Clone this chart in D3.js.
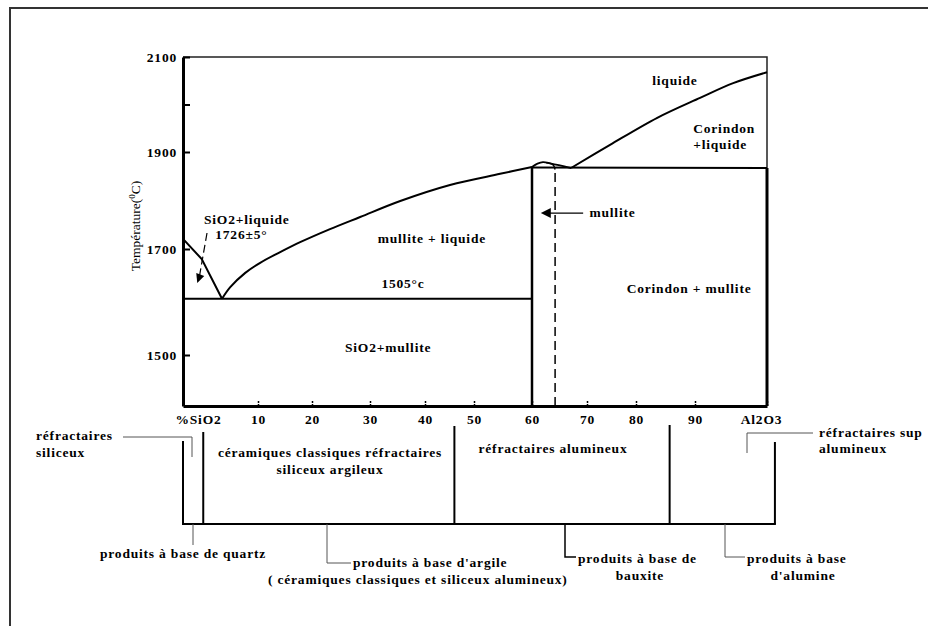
<!DOCTYPE html>
<html>
<head>
<meta charset="utf-8">
<script src="https://cdn.jsdelivr.net/npm/d3@7"></script>
<style>
body { margin: 0; background: #fff; }
text { font-family: "Liberation Serif", "Times New Roman", serif; font-weight: bold; font-size: 13.5px;
  fill: #000; letter-spacing: 0.8px; }
text.title { font-weight: normal; letter-spacing: 0; font-size: 13.5px; }
</style>
</head>
<body>
<div id="diagram"></div>
<script>
"use strict";

// data (composition % Al2O3, temperature °C) ***********************************
var xTicks = [0, 10, 20, 30, 40, 50, 60, 70, 80, 90, 100];
var xTickLabels = ["%SiO2", "10", "20", "30", "40", "50", "60", "70", "80", "90", "Al2O3"];
var yTicks = [1500, 1700, 1900, 2000, 2100];
var yTickLabels = ["1500", "1700", "1900", "", "2100"];

var silicaLiquidus = [[0, 1721], [2.5, 1681], [5.2, 1606]];
var mulliteLiquidus = [[5.2, 1606], [6.3, 1628], [8.3, 1655], [10.4, 1674], [14.1, 1694],
  [17.8, 1714], [23.1, 1741], [28.3, 1766], [35.5, 1799], [45.1, 1832], [54.5, 1855], [60, 1869]];
var mulliteDome = [[60, 1869], [61, 1876], [62, 1879], [63.5, 1876], [67.1, 1867]];
var corundumLiquidus = [[67.1, 1867], [74.7, 1915], [83.6, 1972], [90.7, 2014], [95.3, 2045], [100, 2068]];

var eutecticT = 1606;      // ligne "1505°c"
var peritecticT = 1867;
var mulliteX = 60;
var mulliteDashX = 64.2;

// limites des familles de produits (% Al2O3)
var classBounds = [0, 2.7, 46, 85.7, 101.1];

// variables ********************************************************************
var width = 928;
var height = 626;

// the original axes are hand drawn: tick spacing is not even
var x = d3.scaleLinear()
  .domain(xTicks)
  .range([183, 258, 312, 370, 425, 474, 532, 587, 636, 695, 767]);

var y = d3.scaleLinear()
  .domain([1400, 1500, 1700, 1900, 2100])
  .range([406, 355, 249, 152, 57]);

var line = d3.line()
  .x(function(d) { return x(d[0]); })
  .y(function(d) { return y(d[1]); });

var smooth = d3.line()
  .x(function(d) { return x(d[0]); })
  .y(function(d) { return y(d[1]); })
  .curve(d3.curveCatmullRom);

var svg = d3.select("#diagram")
  .append("svg")
  .attr("width", width)
  .attr("height", height);

// outer frame
svg.append("path")
  .attr("d", "M10,626V8H928")
  .attr("fill", "none")
  .attr("stroke", "#333")
  .attr("stroke-width", 2);

// plot box *********************************************************************
svg.append("path")
  .attr("d", "M" + x(0) + "," + y(2100) + "H" + x(100) + "V" + y(peritecticT))
  .attr("fill", "none")
  .attr("stroke", "#222")
  .attr("stroke-width", 1.5);

svg.append("line")
  .attr("x1", x(100)).attr("x2", x(100))
  .attr("y1", y(peritecticT)).attr("y2", y(1400))
  .attr("stroke", "#000")
  .attr("stroke-width", 3);

// axes
var yAxis = svg.append("g")
  .attr("transform", "translate(" + x(0) + ",0)")
  .call(d3.axisLeft(y)
    .tickValues(yTicks)
    .tickFormat(function(d, i) { return yTickLabels[i]; })
    .tickSizeInner(-7)
    .tickSizeOuter(0)
    .tickPadding(6));

yAxis.select(".domain").attr("stroke-width", 3);
yAxis.selectAll(".tick line").attr("stroke-width", 2);
yAxis.selectAll("text").attr("font-size", null).attr("font-family", null);

var xAxis = svg.append("g")
  .attr("transform", "translate(0," + y(1400) + ")")
  .call(d3.axisBottom(x)
    .tickValues(xTicks)
    .tickFormat(function(d, i) { return xTickLabels[i]; })
    .tickSizeInner(-6)
    .tickSizeOuter(0)
    .tickPadding(8));

xAxis.select(".domain").attr("stroke-width", 3);
xAxis.selectAll(".tick line").attr("stroke-width", 1.5).attr("stroke-dasharray", "2,1");
xAxis.selectAll("text").attr("font-size", null).attr("font-family", null);
xAxis.selectAll(".tick text")
  .attr("dx", function(d, i) { return i === 0 ? 15 : (i === xTicks.length - 1 ? -6 : 0); });

// y title
var yTitle = svg.append("text")
  .attr("class", "title")
  .attr("transform", "translate(140,226) rotate(-90)")
  .attr("text-anchor", "middle");
yTitle.append("tspan").text("Température(");
yTitle.append("tspan").attr("dy", -5).style("font-size", "9px").text("0");
yTitle.append("tspan").attr("dy", 5).text("C)");

// phase boundaries ***************************************************************
function stroke(sel, w) {
  return sel.attr("fill", "none").attr("stroke", "#000").attr("stroke-width", w);
}

stroke(svg.append("path").attr("d", line(silicaLiquidus)), 2);
stroke(svg.append("path").attr("d", smooth(mulliteLiquidus)), 2);
stroke(svg.append("path").attr("d", smooth(mulliteDome)), 1.8);
stroke(svg.append("path").attr("d", smooth(corundumLiquidus)), 2);

stroke(svg.append("path").attr("d", line([[0, eutecticT], [mulliteX, eutecticT]])), 2);
stroke(svg.append("path").attr("d", line([[mulliteX, peritecticT + 1], [100, peritecticT]])), 2);
stroke(svg.append("path").attr("d", line([[mulliteX, 1400], [mulliteX, 1870]])), 2.5);

stroke(svg.append("path").attr("d", line([[mulliteDashX, 1400], [mulliteDashX, 1863]])), 1.5)
  .attr("stroke-dasharray", "9,5");
stroke(svg.append("path").attr("d", smooth([[62.6, 1878], [63.8, 1874], [64.2, 1864]])), 1.5);

// labels in the diagram ************************************************************
var labels = [
  { t: "liquide", x: 86.6, y: 2041, a: "middle" },
  { t: "Corindon", x: 89.7, y: 1940, a: "start" },
  { t: "+liquide", x: 89.7, y: 1906, a: "start" },
  { t: "mullite", x: 70.5, y: 1766, a: "start" },
  { t: "mullite + liquide", x: 41.4, y: 1712, a: "middle" },
  { t: "1505°c", x: 36, y: 1626, a: "middle" },
  { t: "Corindon + mullite", x: 89, y: 1617, a: "middle" },
  { t: "SiO2+mullite", x: 33.3, y: 1506, a: "middle" },
  { t: "SiO2+liquide", x: 2.8, y: 1752, a: "start" },
  { t: "1726±5°", x: 4.3, y: 1721, a: "start" }
];

svg.selectAll(".phase")
  .data(labels)
  .enter()
  .append("text")
  .attr("class", "phase")
  .attr("x", function(d) { return x(d.x); })
  .attr("y", function(d) { return y(d.y); })
  .attr("text-anchor", function(d) { return d.a; })
  .text(function(d) { return d.t; });

// arrow to mullite
stroke(svg.append("path").attr("d", line([[69.3, 1774], [63.2, 1774]])), 1.2);
svg.append("path")
  .attr("d", "M" + x(61.6) + "," + y(1774) + "l10,-5v10z")
  .attr("fill", "#000");

// dashed arrow from 1726±5°
stroke(svg.append("path").attr("d", line([[3.2, 1733], [2.2, 1649]])), 1.2)
  .attr("stroke-dasharray", "8,4");
svg.append("path")
  .attr("d", "M" + x(1.9) + "," + y(1636) + "l-1,-10l8,3z")
  .attr("fill", "#000");

// product families bracket **********************************************************
var bracketY = 524;
var boundTops = [441, 432, 426, 425, 442];

svg.append("line")
  .attr("x1", x(classBounds[0]) - 1).attr("x2", x(classBounds[4]) + 1)
  .attr("y1", bracketY).attr("y2", bracketY)
  .attr("stroke", "#000").attr("stroke-width", 2);

svg.selectAll(".bound")
  .data(classBounds)
  .enter()
  .append("line")
  .attr("class", "bound")
  .attr("x1", function(d) { return x(d); })
  .attr("x2", function(d) { return x(d); })
  .attr("y1", function(d, i) { return boundTops[i]; })
  .attr("y2", bracketY)
  .attr("stroke", "#000")
  .attr("stroke-width", 2);

// leader lines
var leaders = [
  { d: "M123,437H192V457", c: "#555", w: 1 },
  { d: "M813,433H747V453", c: "#555", w: 1 },
  { d: "M193,524V545", c: "#555", w: 1 },
  { d: "M327,524V563H351", c: "#555", w: 1 },
  { d: "M565,524V557H576", c: "#000", w: 1.5 },
  { d: "M725,524V557H745", c: "#555", w: 1 }
];

svg.selectAll(".leader")
  .data(leaders)
  .enter()
  .append("path")
  .attr("class", "leader")
  .attr("d", function(d) { return d.d; })
  .attr("fill", "none")
  .attr("stroke", function(d) { return d.c; })
  .attr("stroke-width", function(d) { return d.w; });

var notes = [
  { t: "réfractaires", x: 36, y: 440, a: "start" },
  { t: "siliceux", x: 36, y: 457, a: "start" },
  { t: "céramiques classiques réfractaires", x: 330, y: 457, a: "middle" },
  { t: "siliceux argileux", x: 330, y: 474, a: "middle" },
  { t: "réfractaires alumineux", x: 553, y: 453, a: "middle" },
  { t: "réfractaires sup", x: 819, y: 437, a: "start" },
  { t: "alumineux", x: 819, y: 453, a: "start" },
  { t: "produits à base de quartz", x: 100, y: 558, a: "start" },
  { t: "produits à base d'argile", x: 353, y: 567, a: "start" },
  { t: "( céramiques classiques et siliceux alumineux)", x: 268, y: 584, a: "start" },
  { t: "produits à base de", x: 578, y: 563, a: "start" },
  { t: "bauxite", x: 640, y: 580, a: "middle" },
  { t: "produits à base", x: 747, y: 563, a: "start" },
  { t: "d'alumine", x: 803, y: 580, a: "middle" }
];

svg.selectAll(".note")
  .data(notes)
  .enter()
  .append("text")
  .attr("class", "note")
  .attr("x", function(d) { return d.x; })
  .attr("y", function(d) { return d.y; })
  .attr("text-anchor", function(d) { return d.a; })
  .text(function(d) { return d.t; });
</script>
</body>
</html>
